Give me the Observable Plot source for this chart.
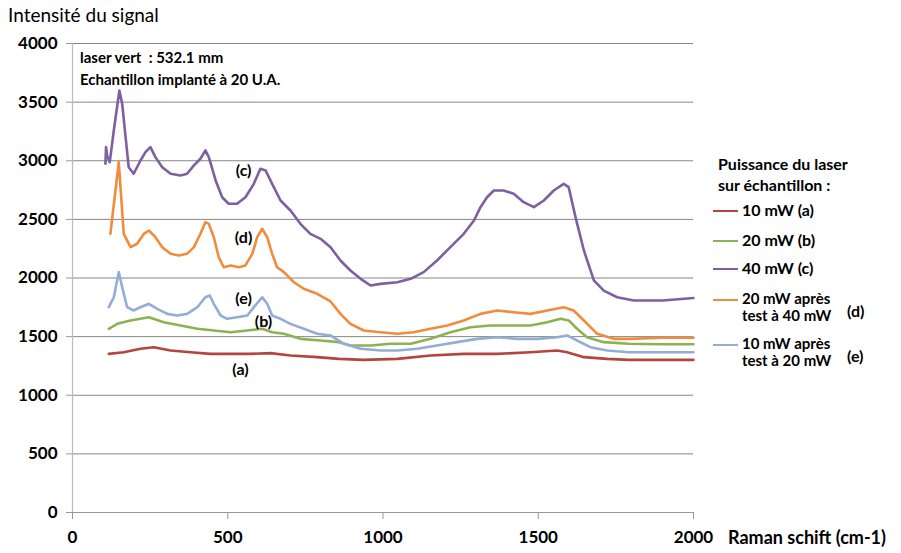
<!DOCTYPE html>
<html><head><meta charset="utf-8">
<script src="https://cdn.jsdelivr.net/npm/d3@7"></script>
<script src="https://cdn.jsdelivr.net/npm/@observablehq/plot@0.6"></script>
<style>
html,body{margin:0;padding:0;background:#fff;}
#wrap{position:relative;width:901px;height:553px;font-family:Lato,"Open Sans",sans-serif;color:#000;}
.t{position:absolute;white-space:pre;}
.b{font-weight:bold;}
.sw{position:absolute;height:2px;width:25px;}
</style></head>
<body><div id="wrap"></div>
<script>
// ---- data ----
const xTicks = [0, 500, 1000, 1500, 2000];
const yTicks = [0, 500, 1000, 1500, 2000, 2500, 3000, 3500, 4000];

const seriesNames = ["10 mW (a)", "20 mW (b)", "40 mW (c)", "20 mW après test à 40 mW (d)", "10 mW après test à 20 mW (e)"];
const seriesColors = ["#B3443F", "#8CB251", "#7E5FA0", "#F08C3C", "#92ADD6"];

const xa = [117,165,219,262,316,380,444,509,573,638,702,788,858,938,1046,1153,1260,1368,1475,1561,1593,1647,1722,1792,1900,2000];
const ya = [1353,1367,1396,1410,1382,1367,1353,1353,1353,1359,1339,1325,1310,1302,1310,1339,1353,1353,1367,1382,1367,1325,1310,1302,1302,1302];

const xb = [117,144,187,246,294,348,402,455,509,563,611,643,681,734,799,858,895,960,1024,1089,1153,1217,1282,1346,1411,1475,1529,1572,1598,1625,1657,1711,1792,1900,2000];
const yb = [1567,1609,1638,1666,1623,1595,1567,1552,1538,1552,1567,1538,1524,1481,1467,1453,1424,1424,1439,1439,1481,1538,1580,1595,1595,1595,1623,1652,1638,1567,1495,1453,1439,1435,1435];

const xc = [106,108,112,120,133,151,160,171,181,197,219,235,251,267,289,316,348,369,391,412,428,439,461,482,503,530,557,584,605,622,643,670,702,734,766,799,831,863,895,928,960,992,1046,1089,1131,1174,1217,1260,1293,1314,1335,1357,1389,1421,1453,1486,1518,1550,1582,1598,1620,1647,1679,1711,1754,1808,1900,2000];
const yc = [2974,3116,3040,2988,3258,3599,3486,3201,2945,2889,3002,3073,3116,3031,2945,2889,2874,2889,2960,3017,3088,3031,2832,2689,2633,2633,2689,2803,2931,2917,2803,2661,2576,2462,2377,2334,2263,2149,2064,1993,1936,1950,1964,1993,2050,2149,2263,2377,2490,2604,2689,2746,2746,2718,2647,2604,2661,2746,2803,2775,2519,2235,1979,1893,1836,1808,1808,1830];

const xd = [122,149,165,187,208,230,246,267,289,316,342,369,391,412,428,439,455,471,487,509,536,557,579,595,611,627,643,659,681,713,745,788,831,863,895,938,992,1046,1099,1153,1207,1260,1314,1368,1421,1475,1529,1582,1614,1647,1690,1743,1792,1900,2000];
const yd = [2377,2988,2377,2263,2292,2377,2405,2348,2263,2206,2192,2206,2263,2377,2476,2462,2348,2178,2092,2107,2092,2107,2206,2348,2420,2348,2206,2092,2050,1964,1908,1865,1800,1694,1609,1552,1538,1524,1538,1567,1595,1638,1694,1723,1708,1694,1723,1751,1723,1638,1524,1481,1481,1490,1490];

const xe = [117,133,149,160,176,197,219,246,273,305,337,369,402,428,442,455,477,498,530,563,584,611,627,643,670,702,745,788,831,874,928,992,1046,1110,1174,1239,1303,1368,1432,1497,1561,1593,1625,1668,1722,1792,1900,2000];
const ye = [1751,1836,2050,1922,1751,1723,1751,1780,1737,1694,1680,1694,1751,1836,1851,1780,1680,1652,1666,1680,1751,1836,1780,1680,1652,1609,1567,1524,1510,1439,1396,1382,1382,1396,1424,1453,1481,1495,1481,1481,1495,1510,1467,1410,1382,1367,1367,1367];

// in-plot curve labels
const labelText = ["(c)", "(d)", "(e)", "(b)", "(a)"];
const labelX = [551, 551, 551, 615, 541];
const labelY = [2917, 2345, 1825, 1629, 1220];

// ---- build ----
const xs = [xa, xb, xc, xd, xe], ys = [ya, yb, yc, yd, ye];
const rows = [];
xs.forEach((arr, i) => arr.forEach((x, j) => rows.push({s: seriesNames[i], x, y: ys[i][j]})));
const labels = labelText.map((t, i) => ({t, x: labelX[i], y: labelY[i]}));

const chart = Plot.plot({
  width: 901, height: 553,
  marginLeft: 72, marginRight: 208, marginTop: 43, marginBottom: 41,
  style: {fontFamily: "Lato, sans-serif", background: "transparent"},
  x: {domain: [0, 2000], ticks: xTicks, label: null, tickFormat: d => String(d)},
  y: {domain: [0, 4000], ticks: yTicks, label: null, tickFormat: d => String(d)},
  color: {domain: seriesNames, range: seriesColors},
  marks: [
    Plot.gridY(yTicks.filter(d => d > 0), {stroke: "#868686", strokeOpacity: 1, strokeWidth: 1}),
    Plot.ruleY([0], {stroke: "#999", strokeWidth: 1.2}),
    Plot.ruleX([0], {stroke: "#bbb", strokeWidth: 1.2}),
    Plot.axisX({ticks: xTicks, tickSize: 7, tickPadding: 11, stroke: "#999", fontSize: 17, fontWeight: "bold", tickFormat: d => String(d), label: null}),
    Plot.axisY({ticks: yTicks, tickSize: 6, tickPadding: 9, stroke: "#999", fontSize: 17, fontWeight: "bold", tickFormat: d => String(d), label: null}),
    Plot.line(rows, {x: "x", y: "y", z: "s", stroke: "s", strokeWidth: 2.6, curve: "linear"}),
    Plot.text(labels, {x: "x", y: "y", text: "t", fontSize: 16, fontWeight: "bold", fill: "#000"})
  ]
});
chart.style.position = "absolute"; chart.style.left = "0px"; chart.style.top = "0px";
const wrap = document.getElementById("wrap");
wrap.appendChild(chart);

function addText(txt, left, top, size, bold) {
  const d = document.createElement("div");
  d.className = "t" + (bold ? " b" : "");
  d.textContent = txt;
  d.style.left = left + "px"; d.style.top = top + "px"; d.style.fontSize = size + "px";
  d.style.lineHeight = "1";
  wrap.appendChild(d);
  return d;
}
function addSwatch(color, left, top) {
  const d = document.createElement("div");
  d.className = "sw"; d.style.background = color;
  d.style.left = left + "px"; d.style.top = top + "px";
  wrap.appendChild(d);
}
addText("Intensité du signal", 8, 5, 19, false);
addText("laser vert  : 532.1 mm", 80, 50, 15, true);
addText("Echantillon implanté à 20 U.A.", 80, 72, 15, true);
addText("Raman schift (cm-1)", 728, 528, 18, true);

addText("Puissance du laser", 718, 156, 16, true);
addText("sur échantillon :", 718, 177, 16, true);
const legY = [211, 241, 269, 300, 345];
const legLines = [["10 mW (a)"], ["20 mW (b)"], ["40 mW (c)"], ["20 mW après", "test à 40 mW"], ["10 mW après", "test à 20 mW"]];
legLines.forEach((ls, i) => {
  addSwatch(seriesColors[i], 713, legY[i] - 1);
  const sz = ls.length > 1 ? 15 : 16;
  ls.forEach((l, k) => addText(l, 742, legY[i] - 9 + k * 17, sz, true));
});
addText("(d)", 847, 303, 16, true);
addText("(e)", 847, 348, 16, true);
</script></body></html>
